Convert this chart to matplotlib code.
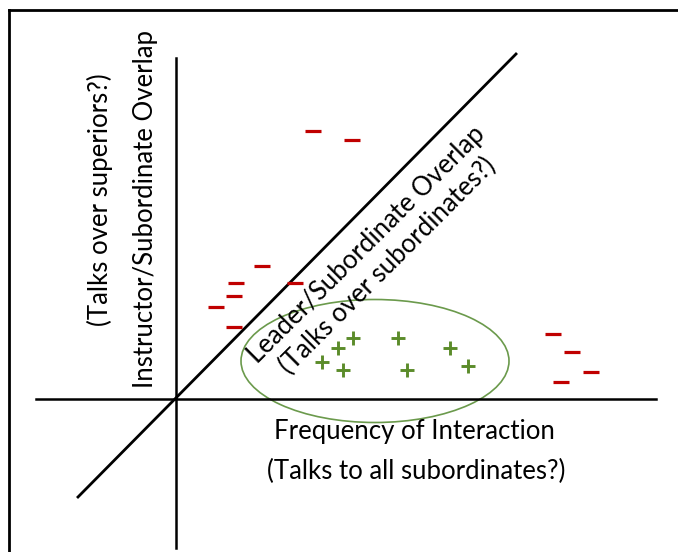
import matplotlib
matplotlib.use("Agg")
import matplotlib.pyplot as plt
from matplotlib.patches import Ellipse

# Data (origin at the axes crossing; units ~ pixels)
minus_x = [137, 176, 86, 60, 119, 58, 40, 58, 377, 396, 415, 385]
minus_y = [268, 259, 133, 116, 116, 103, 92, 72, 65, 47, 27, 17]
plus_x = [177, 222, 162, 274, 146, 167, 231, 292]
plus_y = [61, 61, 51, 51, 37, 29, 29, 33]

x_label = ["Frequency of Interaction", "(Talks to all subordinates?)"]
y_label = ["Instructor/Subordinate Overlap", "(Talks over superiors?)"]
diag_label = "Leader/Subordinate Overlap\n(Talks over subordinates?)"

plt.rcParams['font.family'] = ['Lato', 'DejaVu Sans']

fig = plt.figure(figsize=(6.78, 5.52), dpi=100)
ax = fig.add_axes([0, 0, 1, 1])
ax.set_xlim(-176, 502)
ax.set_ylim(-153, 399)
ax.axis('off')

# frame (left and top)
ax.plot([-167, -167], [-160, 389], color='black', lw=2.0, solid_capstyle='projecting')
ax.plot([-167, 510], [389, 389], color='black', lw=2.0, solid_capstyle='projecting')

# axes lines
ax.plot([-140, 480], [0, 0], color='black', lw=1.8)
ax.plot([0, 0], [-149, 341], color='black', lw=1.8)
ax.plot([-98, 340], [-98, 345], color='black', lw=2.0)

# ellipse
ax.add_patch(Ellipse((199, 38), 268, 123, fill=False, edgecolor='#6b9a4c', lw=1.2))

# markers
ax.plot(minus_x, minus_y, linestyle='none', marker='_', markersize=12, mew=2.3,
        color='#c00000')
ax.plot(plus_x, plus_y, linestyle='none', marker='+', markersize=10, mew=2.1,
        color='#5b8c2a')

# texts
fs = 18.5
ax.text(238, -33, x_label[0], ha='center', va='center', fontsize=fs)
ax.text(240, -72, x_label[1], ha='center', va='center', fontsize=fs)
ax.text(-31, 190, y_label[0], ha='center', va='center', rotation=90, fontsize=fs)
ax.text(-76, 199, y_label[1], ha='center', va='center', rotation=90, fontsize=fs)
ax.text(201, 144, diag_label, ha='center', va='center', rotation=45,
        rotation_mode='anchor', fontsize=fs, linespacing=1.25)

fig.savefig('out.png', dpi=100)
